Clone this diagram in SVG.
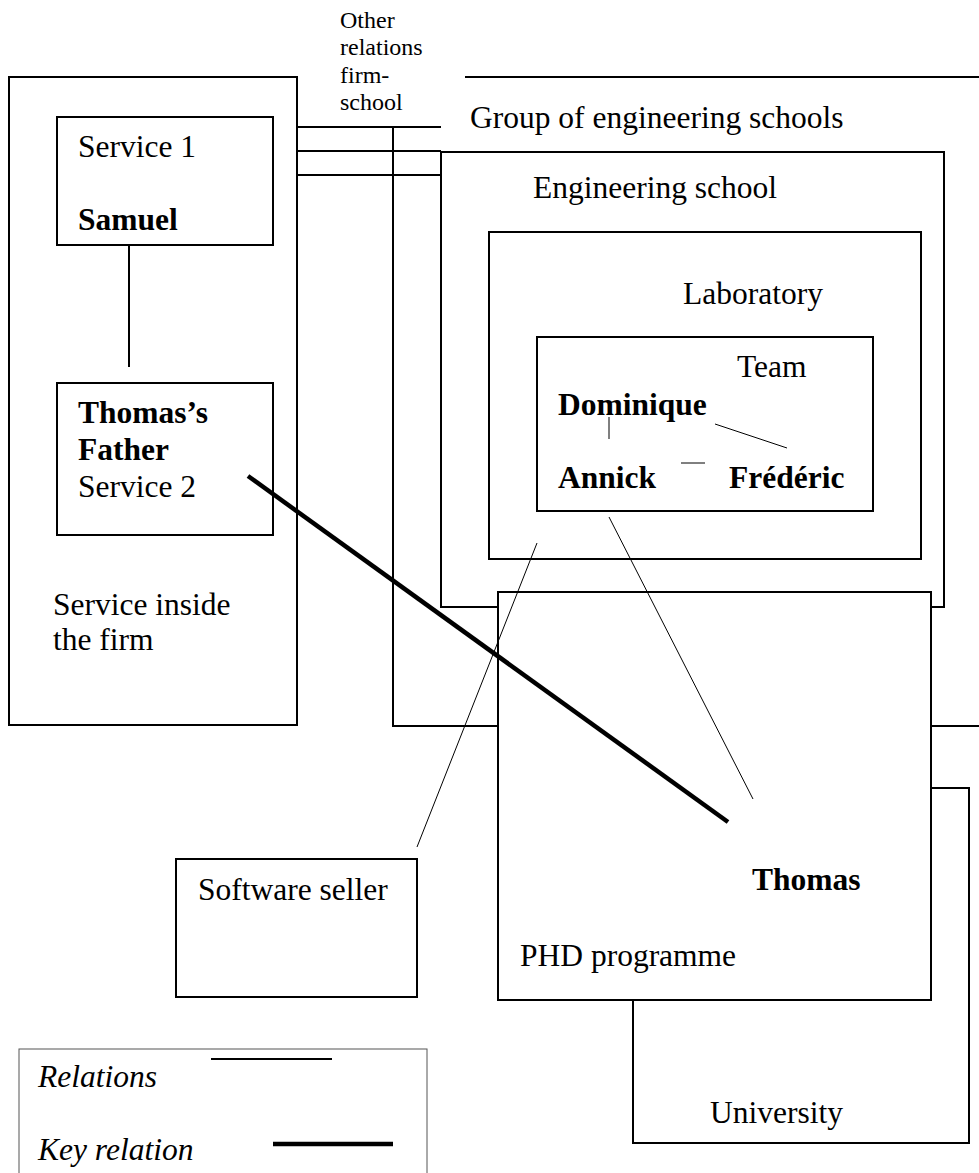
<svg xmlns="http://www.w3.org/2000/svg" width="979" height="1173" viewBox="0 0 979 1173">
<style>
text{font-family:"Liberation Serif","Times New Roman",serif;font-size:31.5px;fill:#000}
.b{font-weight:bold}
.i{font-style:italic}
.sm{font-size:24px}
.box{fill:#fff;stroke:#000;stroke-width:2}
.ln{stroke:#000;stroke-width:2;fill:none}
.thin{stroke:#000;stroke-width:1;fill:none}
.key{stroke:#000;stroke-width:4.5;fill:none}
</style>
<rect width="979" height="1173" fill="#fff"/>
<g id="group-schools">
<path class="ln" d="M465,77H979"/>
<path class="ln" d="M393,127V726H498M931,726H979"/>
<text x="470" y="128">Group of engineering schools</text>
</g>
<g id="firm">
<rect class="box" x="9" y="77" width="288" height="648"/>
<text x="53" y="615">Service inside</text>
<text x="53" y="650">the firm</text>
</g>
<g id="service1">
<rect class="box" x="57" y="117" width="216" height="128"/>
<text x="78" y="157">Service 1</text>
<text class="b" x="78" y="230">Samuel</text>
</g>
<g id="service2">
<rect class="box" x="57" y="383" width="216" height="152"/>
<text class="b" x="78" y="423">Thomas’s</text>
<text class="b" x="78" y="460">Father</text>
<text x="78" y="497">Service 2</text>
</g>
<g id="other-relations">
<text class="sm" x="340" y="28">Other</text>
<text class="sm" x="340" y="55">relations</text>
<text class="sm" x="340" y="83">firm-</text>
<text class="sm" x="340" y="110">school</text>
</g>
<g id="engineering-school">
<rect class="box" x="441" y="152" width="503" height="455"/>
<text x="533" y="198">Engineering school</text>
</g>
<g id="laboratory">
<rect class="box" x="489" y="232" width="432" height="327"/>
<text x="683" y="304">Laboratory</text>
</g>
<g id="team">
<rect class="box" x="537" y="337" width="336" height="174"/>
<text x="737" y="377">Team</text>
<text class="b" x="558" y="415">Dominique</text>
<text class="b" x="558" y="488">Annick</text>
<text class="b" x="729" y="488">Frédéric</text>
</g>
<g id="university">
<rect class="box" x="633" y="788" width="336" height="355"/>
<text x="710" y="1123">University</text>
</g>
<g id="phd-programme">
<rect class="box" x="498" y="592" width="433" height="408"/>
<text x="520" y="966">PHD programme</text>
<text class="b" x="752" y="890">Thomas</text>
</g>
<g id="software-seller">
<rect class="box" x="176" y="859" width="241" height="138"/>
<text x="198" y="900">Software seller</text>
</g>
<g id="connectors">
<path class="ln" d="M297,127H441M297,151H441M297,175H441"/>
<path class="ln" d="M129,245V367"/>
<path class="thin" d="M609,417V439M715,424L787,448M681,463H705"/>
<path class="thin" d="M609,517L753,799"/>
<path class="thin" d="M537,543L417,847"/>
<path class="key" d="M248,476L728,822"/>
</g>
<g id="legend">
<rect x="19" y="1049" width="408" height="140" fill="none" stroke="#555" stroke-width="1"/>
<text class="i" x="38" y="1087">Relations</text>
<path class="ln" d="M211,1059H332"/>
<text class="i" x="38" y="1160">Key relation</text>
<path class="key" d="M273,1144H393"/>
</g>
</svg>
